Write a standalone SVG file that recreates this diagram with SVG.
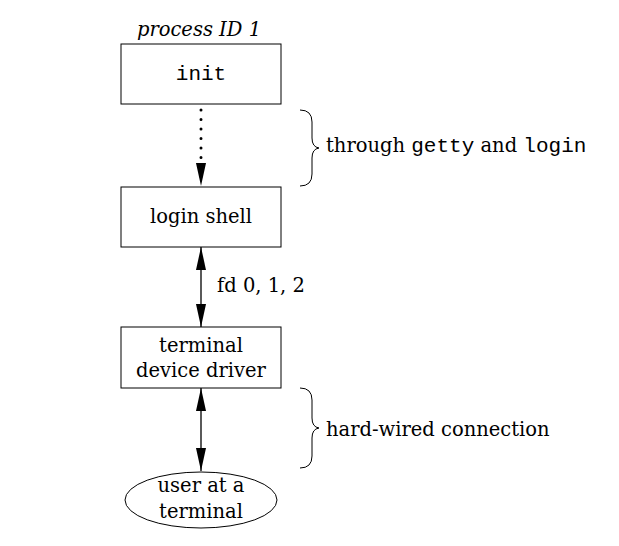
<svg xmlns="http://www.w3.org/2000/svg" width="619" height="546" viewBox="0 0 619 546">
<style>
.box{fill:#fff;stroke:#000;stroke-width:1}
.t{font-family:"DejaVu Serif","Liberation Serif",serif;font-size:19.5px;fill:#000}
.m{font-family:"Liberation Mono","DejaVu Sans Mono",monospace;font-size:21px;fill:#000}
.ln{stroke:#000;stroke-width:1.3;fill:none}
.br{stroke:#000;stroke-width:1;fill:none}
</style>
<defs>
<marker id="a" viewBox="0 0 23 10" refX="23" refY="5" markerWidth="23" markerHeight="10" markerUnits="userSpaceOnUse" orient="auto-start-reverse">
<path d="M0,0 L23,5 L0,10 Z" fill="#000"/>
</marker>
</defs>
<text class="t" x="199" y="36" text-anchor="middle" font-style="italic" font-size="18">process ID 1</text>
<g id="init">
<rect class="box" x="121" y="44" width="160" height="60"/>
<text class="m" x="201" y="80" text-anchor="middle">init</text>
</g>
<g id="login-shell">
<rect class="box" x="121" y="187" width="160" height="60"/>
<text class="t" x="201" y="223" text-anchor="middle">login shell</text>
</g>
<g id="terminal-driver">
<rect class="box" x="121" y="327" width="160" height="61"/>
<text class="t" x="201" y="352" text-anchor="middle">terminal</text>
<text class="t" x="201" y="377" text-anchor="middle">device driver</text>
</g>
<g id="user">
<ellipse class="box" cx="201" cy="500" rx="76" ry="28"/>
<text class="t" x="201" y="492" text-anchor="middle">user at a</text>
<text class="t" x="201" y="518" text-anchor="middle">terminal</text>
</g>
<g id="connectors">
<line x1="201" y1="110" x2="201" y2="186" stroke="#000" stroke-width="3" stroke-linecap="round" stroke-dasharray="0 9.5" marker-end="url(#a)"/>
<line class="ln" x1="201" y1="247" x2="201" y2="327" marker-start="url(#a)" marker-end="url(#a)"/>
<line class="ln" x1="201" y1="388" x2="201" y2="471" marker-start="url(#a)" marker-end="url(#a)"/>
<path class="br" d="M300,110 Q312,110 312,122 L312,138 Q312,147 319,148 Q312,149 312,158 L312,174 Q312,186 300,186"/>
<path class="br" d="M300,388 Q312,388 312,400 L312,418 Q312,427 319,428 Q312,429 312,438 L312,456 Q312,468 300,468"/>
</g>
<text class="t" x="326" y="152">through <tspan class="m">getty</tspan> and <tspan class="m">login</tspan></text>
<text class="t" x="326" y="436">hard-wired connection</text>
<text class="t" x="217" y="292">fd 0, 1, 2</text>
</svg>
